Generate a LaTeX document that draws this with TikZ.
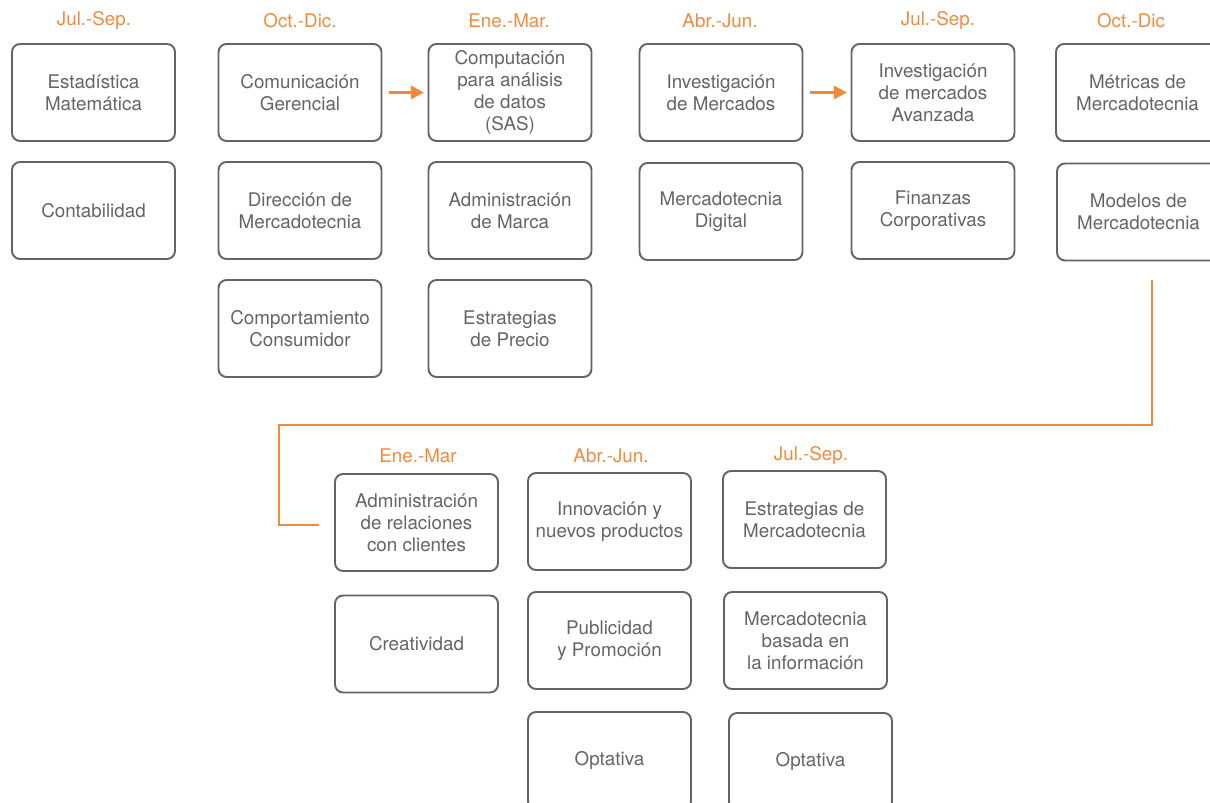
\documentclass[tikz,border=0pt]{standalone}
\usepackage{fontspec}
\setmainfont{TeX Gyre Heros}
\usepackage{tikz}
\usetikzlibrary{arrows.meta}

\definecolor{naranja}{RGB}{242,138,62}
\definecolor{marco}{RGB}{100,100,100}
\definecolor{texto}{RGB}{100,100,100}

\tikzset{
  materia/.style={draw=marco, line width=1.1pt, rounded corners=0.16cm,
    minimum width=3.26cm, minimum height=1.94cm, align=center, text=texto,
    font=\fontsize{10.7}{12.5}\selectfont},
  periodo/.style={text=naranja, font=\fontsize{10.7}{12.5}\selectfont},
  sigue/.style={draw=naranja, line width=1.5pt, shorten <=4pt, shorten >=2pt,
    -{Triangle[length=7.5pt,width=7.5pt]}},
  ruta/.style={draw=naranja, line width=1.1pt}
}

\begin{document}
\begin{tikzpicture}[x=0.02cm,y=-0.02cm]
\useasboundingbox (0,0) rectangle (1210,803);

% primer tramo
\node [periodo] (p1) at (94,21) {Jul.-Sep.};
\node [periodo] (p2) at (300,21) {Oct.-Dic.};
\node [periodo] (p3) at (509,21) {Ene.-Mar.};
\node [periodo] (p4) at (720,21) {Abr.-Jun.};
\node [periodo] (p5) at (938,21) {Jul.-Sep.};
\node [periodo] (p6) at (1131,21) {Oct.-Dic};

\node [materia] (estad) at (93.5,92.5) {Estadística\\Matemática};
\node [materia] (conta) at (93.5,210.5) {Contabilidad};

\node [materia] (comun) at (300,92.5) {Comunicación\\Gerencial};
\node [materia] (direc) at (300,210.5) {Dirección de\\Mercadotecnia};
\node [materia] (compor) at (300,328.5) {Comportamiento\\Consumidor};

\node [materia] (compu) at (510,92.5) {Computación\\para análisis\\de datos\\(SAS)};
\node [materia] (marca) at (510,210.5) {Administración\\de Marca};
\node [materia] (precio) at (510,328.5) {Estrategias\\de Precio};

\node [materia] (inves) at (721,92.5) {Investigación\\de Mercados};
\node [materia] (digital) at (721,211.5) {Mercadotecnia\\Digital};

\node [materia] (avanz) at (933,92.5) {Investigación\\de mercados\\Avanzada};
\node [materia] (finan) at (933,210.5) {Finanzas\\Corporativas};

\node [materia] (metri) at (1137.5,92.5) {Métricas de\\Mercadotecnia};
\node [materia] (model) at (1138.5,212) {Modelos de\\Mercadotecnia};

\draw [sigue] (comun) -- (compu);
\draw [sigue] (inves) -- (avanz);

% segundo tramo
\node [periodo] (p7) at (418,456) {Ene.-Mar};
\node [periodo] (p8) at (611,456) {Abr.-Jun.};
\node [periodo] (p9) at (811,456) {Jul.-Sep.};

\node [materia] (client) at (416.5,522.5) {Administración\\de relaciones\\con clientes};
\node [materia] (creat) at (416.5,644) {Creatividad};

\node [materia] (innov) at (609.5,521.5) {Innovación y\\nuevos productos};
\node [materia] (public) at (609.5,640.5) {Publicidad\\y Promoción};
\node [materia] (opt1) at (609.5,760.5) {Optativa};

\node [materia] (estrat) at (804.5,519.5) {Estrategias de\\Mercadotecnia};
\node [materia] (basada) at (805.5,640.5) {Mercadotecnia\\basada en\\la información};
\node [materia] (opt2) at (810.5,761.5) {Optativa};

\coordinate (salida) at (1152,280);
\coordinate (codo) at (279,425);
\coordinate (llegada) at (319,525);
\draw [ruta] (salida) |- (codo) |- (llegada);
\end{tikzpicture}
\end{document}
